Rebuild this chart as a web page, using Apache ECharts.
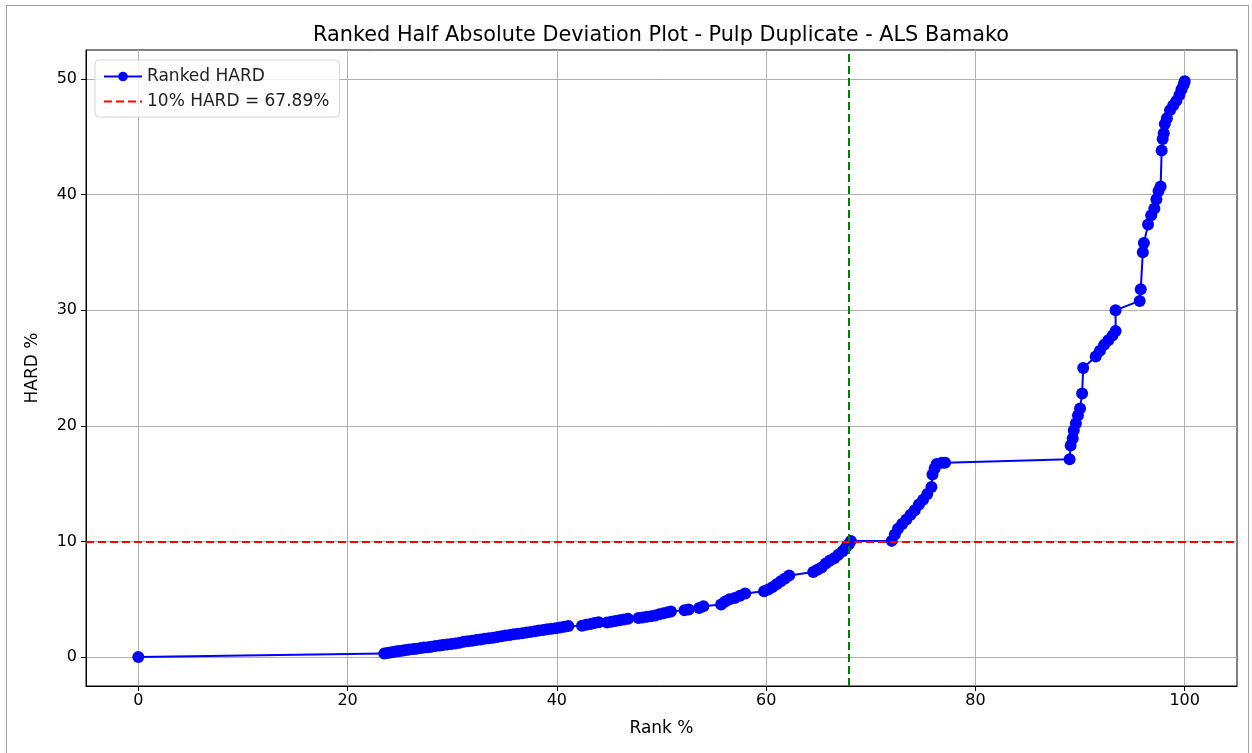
<!DOCTYPE html>
<html>
<head>
<meta charset="utf-8">
<title>Ranked HARD</title>
<script src="https://cdn.jsdelivr.net/npm/echarts@6/dist/echarts.min.js"></script>
<style>
  body { margin: 0; background: #fff; }
  #main { width: 1252px; height: 753px; }
  #frame { position: absolute; left: 6px; top: 5px; width: 1241px; height: 770px; border: 1px solid #a0a0a0; pointer-events: none; }
</style>
</head>
<body>
<div id="main"></div>
<div id="frame"></div>
<script>
// rank % of each sample (x)
var rankPct = [
  0,
  23.5, 23.8, 24.1, 24.4, 24.7, 25.0, 25.3, 25.6, 25.9, 26.3, 26.6, 27.0, 27.3, 27.7, 28.0, 28.4,
  28.8, 29.1, 29.5, 29.9, 30.3, 30.7, 31.1, 31.5, 31.9, 32.3, 32.7, 33.1, 33.5, 33.9, 34.3, 34.7,
  35.1, 35.5, 35.9, 36.3, 36.7, 37.1, 37.5, 37.9, 38.3, 38.7, 39.1, 39.5, 39.9, 40.3, 40.7, 41.1,
  42.4, 42.8, 43.2, 43.6, 44.0,
  44.8, 45.2, 45.6, 46.0, 46.4, 46.8,
  47.8, 48.2, 48.6, 49.0, 49.4, 49.8, 50.2, 50.6, 50.9,
  52.2, 52.6, 53.6, 54.0,
  55.7, 56.1, 56.5, 57.0, 57.5, 58.0,
  59.8, 60.2, 60.6, 61.0, 61.4, 61.8, 62.2,
  64.5, 64.9, 65.3, 65.7, 66.1, 66.5, 66.9, 67.3, 67.6, 67.9, 68.1,
  72.0, 72.3, 72.6, 73.0, 73.4, 73.8, 74.2, 74.6, 75.0, 75.4, 75.8, 75.9, 76.1, 76.3, 76.8, 77.1,
  89.0, 89.1, 89.3, 89.4, 89.6, 89.8, 90.0, 90.2, 90.3,
  91.5, 91.9, 92.3, 92.7, 93.1, 93.4, 93.4,
  95.7, 95.8, 96.0, 96.1, 96.5, 96.8, 97.1, 97.3, 97.5, 97.7, 97.8, 97.9, 98.0, 98.1, 98.3,
  98.6, 98.9, 99.2, 99.5, 99.7, 99.9, 100.0
];
// half absolute relative deviation % (y)
var hardPct = [
  0,
  0.30, 0.36, 0.40, 0.44, 0.50, 0.53, 0.58, 0.62, 0.66, 0.70, 0.72, 0.78, 0.82, 0.86, 0.90, 0.95,
  1.00, 1.04, 1.08, 1.13, 1.18, 1.25, 1.32, 1.38, 1.42, 1.47, 1.53, 1.58, 1.63, 1.68, 1.74, 1.80,
  1.86, 1.92, 1.97, 2.02, 2.07, 2.13, 2.18, 2.24, 2.30, 2.35, 2.40, 2.45, 2.50, 2.56, 2.62, 2.68,
  2.72, 2.80, 2.87, 2.94, 3.02,
  3.00, 3.06, 3.12, 3.18, 3.25, 3.32,
  3.38, 3.42, 3.48, 3.54, 3.60, 3.70, 3.80, 3.88, 3.95,
  4.05, 4.12, 4.25, 4.40,
  4.55, 4.80, 5.00, 5.10, 5.30, 5.50,
  5.70, 5.85, 6.05, 6.30, 6.55, 6.80, 7.05,
  7.35, 7.55, 7.75, 8.10, 8.35, 8.55, 8.85, 9.15, 9.45, 9.75, 10.05,
  10.05, 10.6, 11.1, 11.5, 11.9, 12.3, 12.7, 13.2, 13.6, 14.1, 14.7, 15.8, 16.3, 16.7, 16.8, 16.8,
  17.1, 18.3, 18.9, 19.6, 20.2, 20.9, 21.5, 22.8, 25.0,
  26.0, 26.5, 27.0, 27.4, 27.8, 28.2, 30.0,
  30.8, 31.8, 35.0, 35.8, 37.4, 38.2, 38.8, 39.6, 40.3, 40.7, 43.8, 44.8, 45.3, 46.1, 46.6,
  47.3, 47.7, 48.1, 48.6, 49.1, 49.5, 49.8
];
var xTicks = [0, 20, 40, 60, 80, 100];
var yTicks = [0, 10, 20, 30, 40, 50];
var hardLimit = 10;      // 10% HARD threshold
var rankAtLimit = 67.89; // rank % where HARD reaches 10%

var font = 'DejaVu Sans';
var myChart = echarts.init(document.getElementById('main'));

var pts = [];
for (var i = 0; i < rankPct.length; i++) {
  pts.push([rankPct[i], hardPct[i]]);
}

var option = {
  animation: false,
  title: {
    text: 'Ranked Half Absolute Deviation Plot - Pulp Duplicate - ALS Bamako',
    left: 656, top: 20, textAlign: 'center',
    textStyle: { fontFamily: font, fontSize: 20.8, fontWeight: 'normal', color: '#000' }
  },
  legend: {
    orient: 'vertical',
    left: 95, top: 60,
    itemWidth: 38, itemHeight: 12, itemGap: 8,
    padding: [8, 10, 7, 8],
    borderColor: '#d4d4d4', borderWidth: 1, borderRadius: 4,
    backgroundColor: 'rgba(255,255,255,0.8)',
    textStyle: { fontFamily: font, fontSize: 17, color: '#222' },
    data: ['Ranked HARD', { name: '10% HARD = 67.89%', itemStyle: { opacity: 0 } }]
  },
  grid: {
    left: 86, right: 15, top: 50, bottom: 67,
    show: true, borderColor: '#000', borderWidth: 1
  },
  xAxis: {
    type: 'value', min: -5, max: 105,
    name: 'Rank %', nameLocation: 'middle', nameGap: 34,
    nameTextStyle: { fontFamily: font, fontSize: 17, color: '#000' },
    axisLine: { onZero: false, lineStyle: { color: '#000' } },
    axisTick: { customValues: xTicks, length: 5, lineStyle: { color: '#000' } },
    axisLabel: { customValues: xTicks, fontFamily: font, fontSize: 16, color: '#000', margin: 7 },
    splitLine: { show: true, lineStyle: { color: '#b0b0b0', width: 1 } }
  },
  yAxis: {
    type: 'value', min: -2.5, max: 52.5,
    name: 'HARD %', nameLocation: 'middle', nameGap: 45, nameRotate: 90,
    nameTextStyle: { fontFamily: font, fontSize: 17, color: '#000' },
    axisLine: { show: true, onZero: false, lineStyle: { color: '#000' } },
    axisTick: { show: true, customValues: yTicks, length: 5, lineStyle: { color: '#000' } },
    axisLabel: { customValues: yTicks, fontFamily: font, fontSize: 16, color: '#000', margin: 9 },
    splitLine: { show: true, lineStyle: { color: '#b0b0b0', width: 1 } }
  },
  series: [
    {
      name: 'Ranked HARD',
      type: 'line',
      data: pts,
      symbol: 'circle', symbolSize: 12,
      showAllSymbol: true,
      itemStyle: { color: '#0000ff' },
      lineStyle: { color: '#0000ff', width: 2 },
      z: 3,
      markLine: {
        silent: true, symbol: 'none', label: { show: false },
        lineStyle: { color: '#008000', type: [8, 4], width: 2 },
        data: [{ xAxis: rankAtLimit }]
      }
    },
    {
      name: '10% HARD = 67.89%',
      type: 'line',
      data: [],
      symbol: 'none',
      itemStyle: { color: '#ff0000', opacity: 0 },
      lineStyle: { color: '#ff0000', type: [8, 4], width: 2 },
      markLine: {
        silent: true, symbol: 'none', label: { show: false },
        lineStyle: { color: '#ff0000', type: [8, 4], width: 2, opacity: 1 },
        data: [{ yAxis: hardLimit }]
      }
    }
  ]
};

myChart.setOption(option);
</script>
</body>
</html>
